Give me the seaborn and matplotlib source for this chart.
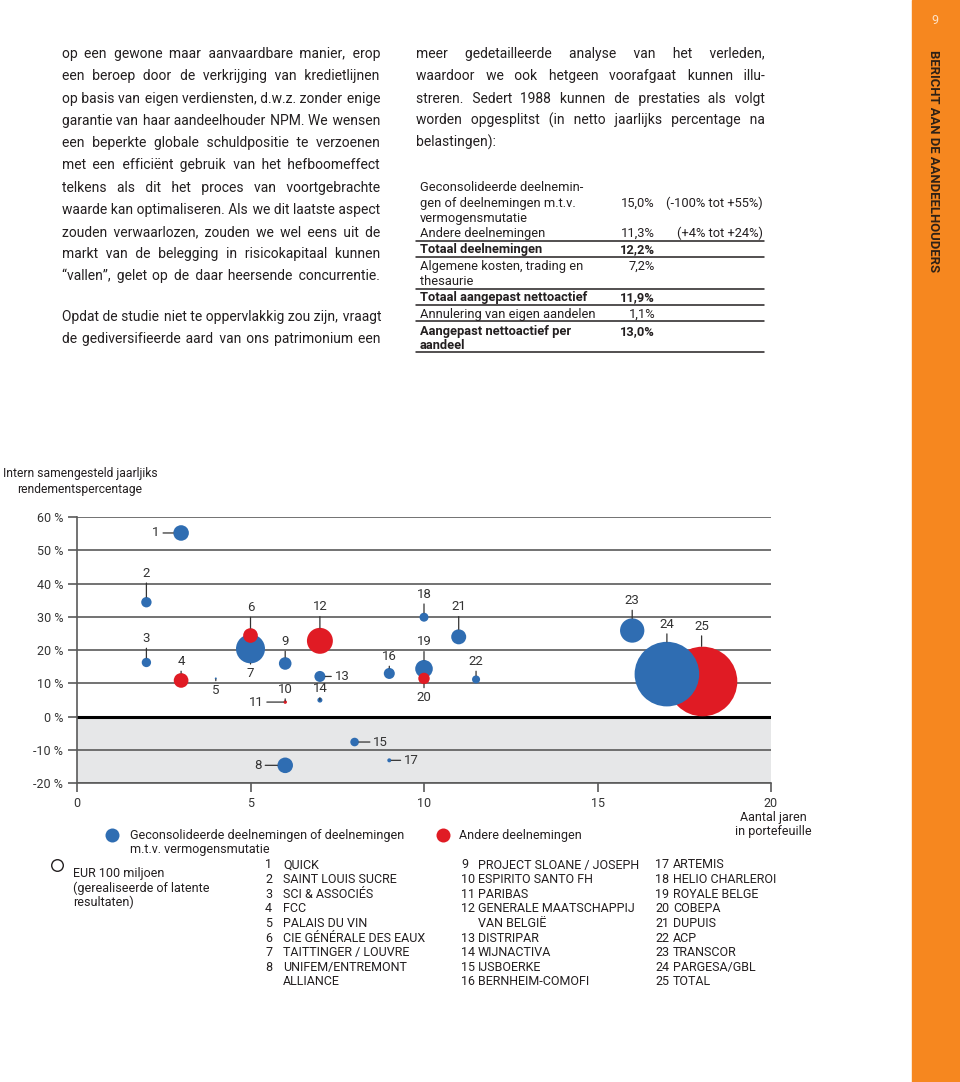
import matplotlib
matplotlib.use("Agg")
import matplotlib.pyplot as plt
import matplotlib.lines as mlines
import numpy as np
import pandas as pd
import seaborn as sns

# --- chart data ---
ids = list(range(1, 26))
years = [3, 2, 2, 3, 4, 5, 5, 6, 6, 6, 6, 7, 7, 7, 8, 9, 9, 10, 10, 10, 11, 11.5, 16, 17, 18]
irr = [55.2, 34.4, 16.3, 10.9, 11.5, 24.4, 20.4, -14.6, 16.0, 4.4, 4.4, 22.8, 12.1, 5.0,
       -7.6, 13.0, -13.1, 29.9, 14.4, 11.5, 24.0, 11.2, 25.9, 12.8, 10.7]
amount = [180, 80, 65, 160, 3, 160, 625, 180, 118, 4, 9, 500, 90, 19, 55, 90, 12, 60,
          230, 97, 167, 48, 440, 3100, 3600]  # EUR miljoen
group = ['cons', 'cons', 'cons', 'andere', 'cons', 'andere', 'cons', 'cons', 'cons', 'cons',
         'andere', 'andere', 'cons', 'cons', 'cons', 'cons', 'cons', 'cons', 'cons', 'andere',
         'cons', 'cons', 'cons', 'cons', 'andere']
names = ["QUICK", "SAINT LOUIS SUCRE", "SCI & ASSOCIÉS", "FCC", "PALAIS DU VIN",
         "CIE GÉNÉRALE DES EAUX", "TAITTINGER / LOUVRE", "UNIFEM/ENTREMONT\nALLIANCE",
         "PROJECT SLOANE / JOSEPH", "ESPIRITO SANTO FH", "PARIBAS",
         "GENERALE MAATSCHAPPIJ\nVAN BELGIË", "DISTRIPAR", "WIJNACTIVA", "IJSBOERKE",
         "BERNHEIM-COMOFI", "ARTEMIS", "HELIO CHARLEROI", "ROYALE BELGE", "COBEPA", "DUPUIS",
         "ACP", "TRANSCOR", "PARGESA/GBL", "TOTAL"]
y_ticks = [-20, -10, 0, 10, 20, 30, 40, 50, 60]
y_labels = ["-20 %", "-10 %", "0 %", "10 %", "20 %", "30 %", "40 %", "50 %", "60 %"]
x_ticks = [0, 5, 10, 15, 20]

# --- table data ---
tab_labels = ["Geconsolideerde deelnemin-", "gen of deelnemingen m.t.v.", "vermogensmutatie",
              "Andere deelnemingen", "Totaal deelnemingen", "Algemene kosten, trading en",
              "thesaurie", "Totaal aangepast nettoactief", "Annulering van eigen aandelen",
              "Aangepast nettoactief per", "aandeel"]
tab_bold = [False, False, False, False, True, False, False, True, False, True, True]
tab_values = ["", "15,0%", "", "11,3%", "12,2%", "7,2%", "", "11,9%", "1,1%", "13,0%", ""]
tab_ranges = ["", "(-100% tot +55%)", "", "(+4% tot +24%)", "", "", "", "", "", "", ""]

left_par = ["op een gewone maar aanvaardbare manier, erop",
            "een beroep door de verkrijging van kredietlijnen",
            "op basis van eigen verdiensten, d.w.z. zonder enige",
            "garantie van haar aandeelhouder NPM. We wensen",
            "een beperkte globale schuldpositie te verzoenen",
            "met een efficiënt gebruik van het hefboomeffect",
            "telkens als dit het proces van voortgebrachte",
            "waarde kan optimaliseren. Als we dit laatste aspect",
            "zouden verwaarlozen, zouden we wel eens uit de",
            "markt van de belegging in risicokapitaal kunnen",
            "“vallen”, gelet op de daar heersende concurrentie."]
left_par2 = ["Opdat de studie niet te oppervlakkig zou zijn, vraagt",
             "de gediversifieerde aard van ons patrimonium een"]
right_par = ["meer gedetailleerde analyse van het verleden,",
             "waardoor we ook hetgeen voorafgaat kunnen illu-",
             "streren. Sedert 1988 kunnen de prestaties als volgt",
             "worden opgesplitst (in netto jaarlijks percentage na",
             "belastingen):"]

# label placement: side and distance in pixels
label_pos = {1: ('l', 25), 2: ('u', 29), 3: ('u', 24), 4: ('u', 19), 5: ('d', 12), 6: ('u', 28),
             7: ('d', 25), 8: ('l', 27), 9: ('u', 22), 10: ('u', 13), 11: ('l', 29), 12: ('u', 34),
             13: ('r', 22), 14: ('u', 12), 15: ('r', 26), 16: ('u', 17), 17: ('r', 22),
             18: ('u', 23), 19: ('u', 27), 20: ('d', 19), 21: ('u', 30), 22: ('u', 18),
             23: ('u', 30), 24: ('u', 50), 25: ('u', 55)}

BLUE = '#2f6db2'
RED = '#e01b24'
INK = '#231f20'
GRID = '#5a5a5a'
ORANGE = '#f6871f'
HAIR = '\u200a'

sns.set_style("white")
plt.rcParams['font.family'] = ['Roboto', 'DejaVu Sans']

W, H = 960, 1082
fig = plt.figure(figsize=(W / 100, H / 100), dpi=100)


def fx(x):
    return x / W


def fy(y):
    return 1 - y / H


def put(x, y, s, **kw):
    kw.setdefault('color', INK)
    kw.setdefault('va', 'center')
    return fig.text(fx(x), fy(y), s, **kw)


def hline(x0, x1, y, lw=1.0):
    fig.add_artist(mlines.Line2D([fx(x0), fx(x1)], [fy(y), fy(y)], transform=fig.transFigure,
                                 color=INK, lw=lw))


renderer = fig.canvas.get_renderer()


def width_of(s, size):
    t = put(0, 0, s, fontsize=size)
    w = t.get_window_extent(renderer).width
    t.remove()
    return w


def justify(x0, x1, y, line, size):
    # one text per line; the gaps are widened with hair spaces to fill x0..x1
    hair_w = (width_of('a' + HAIR * 40 + 'a', size) - width_of('aa', size)) / 40
    t = put(x0, y + 5, line, fontsize=size, ha='left', va='baseline')
    extra = (x1 - x0 - t.get_window_extent(renderer).width) / hair_w
    words = line.split(' ')
    n = len(words) - 1
    s = words[0]
    for i, w in enumerate(words[1:]):
        k = max(0, int(round(extra * (i + 1) / n)) - int(round(extra * i / n)))
        s += ' ' + HAIR * k + w
    t.set_text(s)


# --- body text ---
BODY = 10.0
ys = [53, 75, 98, 120, 142, 164, 187, 209, 231, 253, 275]
for i, line in enumerate(left_par):
    justify(62, 380, ys[i], line, BODY)
for y, line in zip([316, 338], left_par2):
    justify(62, 381, y, line, BODY)
for i, line in enumerate(right_par):
    if i < len(right_par) - 1:
        justify(416, 765, ys[i], line, BODY)
    else:
        put(416, ys[i] + 5, line, fontsize=BODY, va='baseline')

# --- table ---
TAB = 9.3
tab_y = [187, 203, 218, 233, 249, 266, 281, 297, 314, 331, 345]
for y, lab, b, v, r in zip(tab_y, tab_labels, tab_bold, tab_values, tab_ranges):
    w = 'bold' if b else 'normal'
    put(420, y + 4, lab, fontsize=TAB, weight=w, va='baseline')
    if v:
        put(655, y + 4, v, fontsize=TAB, weight=w, ha='right', va='baseline')
    if r:
        put(763, y + 4, r, fontsize=TAB, ha='right', va='baseline')
for y in [241, 257, 289, 305, 321, 352]:
    hline(416, 764, y, lw=1.1)

# --- orange side band ---
fig.patches.append(matplotlib.patches.Rectangle((fx(912), 0), fx(960) - fx(912), 1,
                                                transform=fig.transFigure, color=ORANGE,
                                                zorder=0))
put(935, 20, "9", fontsize=9, ha='center', color='#fde3c8')
put(933, 161, "BERICHT AAN DE AANDEELHOUDERS", fontsize=9.4, ha='center', rotation=270,
    color='#2e2116', weight='bold')

# --- bubble chart ---
ax = fig.add_axes([fx(77), fy(783.3), fx(771) - fx(77), fy(517) - fy(783.3)])

df = pd.DataFrame({'id': ids, 'years': years, 'irr': irr, 'amount': amount, 'group': group})
R100 = 5.8  # radius in px of the EUR 100 miljoen reference circle
df['r_px'] = R100 * np.sqrt(df['amount'] / 100)
df['s'] = (2 * df['r_px'] * 0.72) ** 2
df['layer'] = np.where(df['id'] == 25, 0, np.where(df['group'] == 'cons', 1, 2))
sizes = dict(zip(df['id'], df['s']))
palette = {'cons': BLUE, 'andere': RED}

for layer in [0, 1, 2]:
    sub = df[df['layer'] == layer]
    sns.scatterplot(data=sub, x='years', y='irr', hue='group', size='id', sizes=sizes,
                    palette=palette, linewidth=0, alpha=1, legend=False, ax=ax,
                    zorder=3 + layer, clip_on=False)

for _, row in df.iterrows():
    side, d = label_pos[int(row['id'])]
    d = d * 0.72
    off = {'u': (0, d), 'd': (0, -d), 'l': (-d, 0), 'r': (d, 0)}[side]
    ax.annotate(str(int(row['id'])), xy=(row['years'], row['irr']), xytext=off,
                textcoords='offset points', ha='center', va='center', fontsize=9.5,
                color='#333333', zorder=8,
                arrowprops=dict(arrowstyle='-', color='#333333', lw=0.9, shrinkA=0,
                                shrinkB=row['r_px'] * 0.72))

ax.axhspan(-20, 0, color='#e6e7e8', zorder=0, lw=0)
for t in y_ticks:
    if t == 0:
        ax.axhline(t, color='black', lw=2.2, zorder=2)
    else:
        ax.axhline(t, color=GRID, lw=1.2, zorder=1)
ax.set_xlim(0, 20)
ax.set_ylim(-20, 60)
ax.set_yticks(y_ticks)
ax.set_yticklabels(y_labels)
ax.set_xticks(x_ticks)
ax.set_xticklabels([str(t) for t in x_ticks])
ax.tick_params(axis='both', direction='out', length=6.5, width=1.2, color=GRID,
               labelsize=9, labelcolor='#333333', pad=3.5, left=True, bottom=True)
ax.set_xlabel('')
ax.set_ylabel('')
for sp in ['top', 'right']:
    ax.spines[sp].set_visible(False)
for sp in ['left', 'bottom']:
    ax.spines[sp].set_color(GRID)
    ax.spines[sp].set_linewidth(1.2)
ax.patch.set_alpha(0)

put(80, 474, "Intern samengesteld jaarljiks", fontsize=8.7, ha='center')
put(80, 489, "rendementspercentage", fontsize=8.7, ha='center')
put(773, 817, "Aantal jaren", fontsize=9, ha='center')
put(773, 832, "in portefeuille", fontsize=9, ha='center')


# --- legend ---
def dot(x, y, diam_px, face, edge='none', lw=0):
    fig.add_artist(mlines.Line2D([fx(x)], [fy(y)], marker='o', markersize=diam_px * 0.72,
                                 markerfacecolor=face, markeredgecolor=edge,
                                 markeredgewidth=lw, linestyle='none',
                                 transform=fig.transFigure))


LEG = 9
dot(112, 835, 14, BLUE)
put(130, 835, "Geconsolideerde deelnemingen of deelnemingen", fontsize=LEG)
put(130, 849, "m.t.v. vermogensmutatie", fontsize=LEG)
dot(443, 835, 14, RED)
put(459, 835, "Andere deelnemingen", fontsize=LEG)
dot(57, 865, 2 * R100, 'none', edge=INK, lw=1)
put(73, 874, "EUR 100 miljoen", fontsize=LEG)
put(73, 888, "(gerealiseerde of latente", fontsize=LEG)
put(73, 902, "resultaten)", fontsize=LEG)

cols = [(range(1, 9), 265, 283), (range(9, 17), 461, 478), (range(17, 26), 655, 673)]
for rng, xn, xt in cols:
    row = 0
    for i in rng:
        put(xn, 865 + row * 14.6, str(i), fontsize=LEG)
        for part in names[i - 1].split('\n'):
            put(xt, 865 + row * 14.6, part, fontsize=LEG)
            row += 1

fig.savefig('out.png', dpi=100)
